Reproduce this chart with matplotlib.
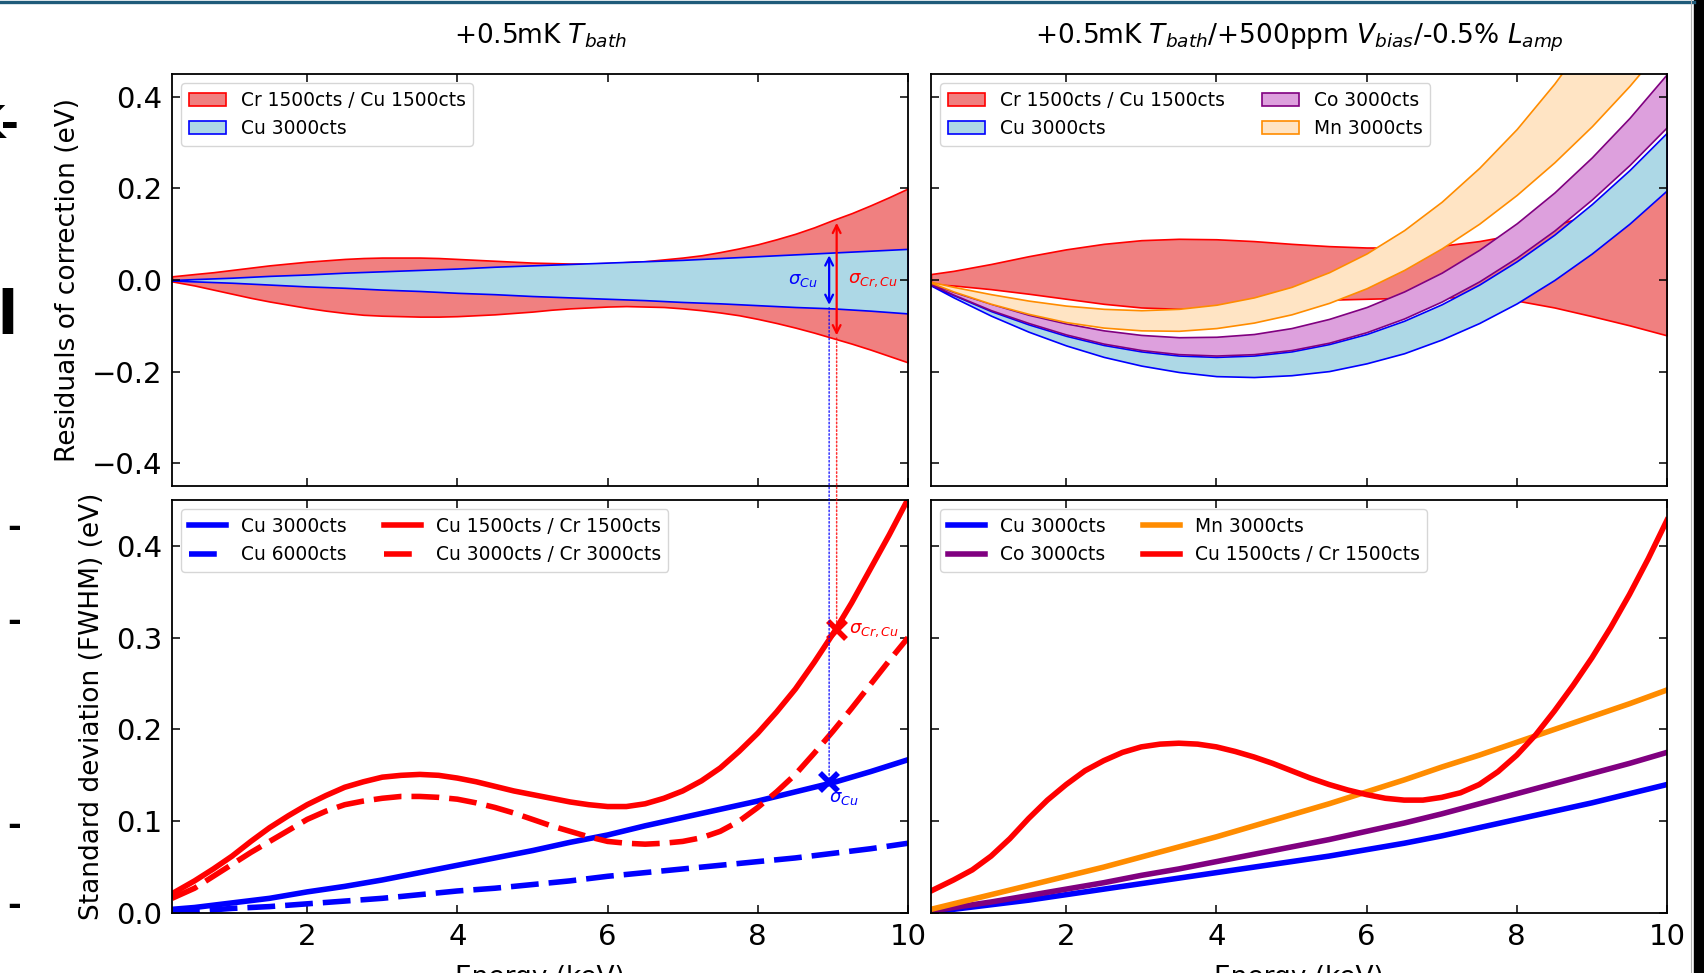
import matplotlib
matplotlib.use("Agg")
import matplotlib.pyplot as plt
from matplotlib.patches import ConnectionPatch, Rectangle
from matplotlib.lines import Line2D

# ---------------- data ----------------
# coarse grid for the gently varying series
energy = [0.2, 0.5, 1.0, 1.5, 2.0, 2.5, 3.0, 3.5, 4.0, 4.5, 5.0,
          5.5, 6.0, 6.5, 7.0, 7.5, 8.0, 8.5, 9.0, 9.5, 10.0]
# finer grid for the strongly curved Cr/Cu series
energy_fine = [0.2, 0.5, 0.75, 1.0, 1.25, 1.5, 1.75, 2.0, 2.25, 2.5, 2.75, 3.0, 3.25,
               3.5, 3.75, 4.0, 4.25, 4.5, 4.75, 5.0, 5.25, 5.5, 5.75, 6.0, 6.25, 6.5,
               6.75, 7.0, 7.25, 7.5, 7.75, 8.0, 8.25, 8.5, 8.75, 9.0, 9.25, 9.5, 9.75, 10.0]

# residual bands, +0.5mK T_bath
res_crcu_up_L = [0.008, 0.013, 0.017, 0.022, 0.027, 0.032, 0.036, 0.040, 0.043, 0.046, 0.048,
                 0.049, 0.049, 0.049, 0.048, 0.046, 0.044, 0.042, 0.040, 0.038, 0.037, 0.036,
                 0.036, 0.037, 0.039, 0.041, 0.045, 0.049, 0.054, 0.061, 0.069, 0.078, 0.089,
                 0.101, 0.115, 0.131, 0.146, 0.163, 0.181, 0.200]
res_crcu_lo_L = [-0.003, -0.012, -0.021, -0.030, -0.039, -0.047, -0.054, -0.061, -0.067, -0.072,
                 -0.076, -0.078, -0.079, -0.080, -0.080, -0.079, -0.077, -0.075, -0.072, -0.069,
                 -0.065, -0.062, -0.060, -0.058, -0.057, -0.058, -0.059, -0.062, -0.066, -0.071,
                 -0.077, -0.085, -0.094, -0.104, -0.115, -0.127, -0.139, -0.152, -0.166, -0.180]
res_cu_up_L = [0.000, 0.002, 0.005, 0.009, 0.012, 0.016, 0.019, 0.022, 0.025, 0.029, 0.032,
               0.035, 0.038, 0.041, 0.044, 0.048, 0.052, 0.056, 0.060, 0.064, 0.068]
res_cu_lo_L = [-0.001, -0.003, -0.006, -0.010, -0.014, -0.017, -0.021, -0.024, -0.028, -0.031, -0.035,
               -0.038, -0.041, -0.044, -0.048, -0.051, -0.055, -0.059, -0.062, -0.067, -0.073]

# residual bands, +0.5mK T_bath / +500ppm V_bias / -0.5% L_amp
res_crcu_up_R = [0.013, 0.020, 0.035, 0.052, 0.067, 0.079, 0.087, 0.090, 0.089, 0.085, 0.079,
                 0.074, 0.071, 0.071, 0.075, 0.085, 0.100, 0.120, 0.143, 0.170, 0.199]
res_crcu_lo_R = [-0.009, -0.012, -0.020, -0.030, -0.041, -0.052, -0.060, -0.063, -0.059, -0.053, -0.047,
                 -0.043, -0.041, -0.039, -0.038, -0.038, -0.045, -0.060, -0.079, -0.099, -0.121]
res_cu_up_R = [-0.010, -0.033, -0.068, -0.097, -0.122, -0.142, -0.156, -0.165, -0.168, -0.165, -0.156,
               -0.140, -0.118, -0.089, -0.053, -0.010, 0.041, 0.099, 0.166, 0.240, 0.322]
res_cu_lo_R = [-0.012, -0.038, -0.078, -0.113, -0.143, -0.168, -0.187, -0.201, -0.210, -0.212, -0.208,
               -0.199, -0.182, -0.160, -0.130, -0.094, -0.051, -0.000, 0.058, 0.123, 0.196]
res_co_up_R = [-0.008, -0.026, -0.052, -0.076, -0.095, -0.110, -0.120, -0.125, -0.124, -0.118, -0.105,
               -0.085, -0.059, -0.025, 0.016, 0.066, 0.124, 0.191, 0.268, 0.354, 0.450]
res_co_lo_R = [-0.010, -0.032, -0.066, -0.094, -0.119, -0.139, -0.153, -0.162, -0.165, -0.162, -0.153,
               -0.137, -0.114, -0.084, -0.047, -0.003, 0.049, 0.108, 0.176, 0.251, 0.334]
res_mn_up_R = [-0.004, -0.015, -0.031, -0.045, -0.056, -0.063, -0.066, -0.063, -0.054, -0.038, -0.015,
               0.017, 0.058, 0.109, 0.171, 0.245, 0.330, 0.429, 0.541, 0.668, 0.810]
res_mn_lo_R = [-0.006, -0.025, -0.052, -0.074, -0.092, -0.104, -0.110, -0.111, -0.105, -0.093, -0.075,
               -0.050, -0.018, 0.022, 0.069, 0.123, 0.186, 0.257, 0.336, 0.424, 0.521]

# standard deviations (FWHM), +0.5mK T_bath
std_cu3000_L = [0.004, 0.006, 0.011, 0.016, 0.023, 0.029, 0.036, 0.044, 0.052, 0.060, 0.068,
                0.077, 0.085, 0.095, 0.104, 0.113, 0.122, 0.132, 0.142, 0.154, 0.167]
std_cu6000_L = [0.001, 0.002, 0.005, 0.007, 0.010, 0.013, 0.016, 0.020, 0.024, 0.027, 0.031,
                0.035, 0.040, 0.044, 0.048, 0.052, 0.056, 0.060, 0.065, 0.070, 0.076]
std_cucr1500_L = [0.021, 0.035, 0.048, 0.062, 0.078, 0.093, 0.106, 0.118, 0.128, 0.137, 0.143,
                  0.148, 0.150, 0.151, 0.150, 0.147, 0.143, 0.138, 0.133, 0.129, 0.125, 0.121,
                  0.118, 0.116, 0.116, 0.119, 0.125, 0.133, 0.144, 0.158, 0.176, 0.196, 0.219,
                  0.244, 0.273, 0.304, 0.338, 0.375, 0.412, 0.451]
std_cucr3000_L = [0.016, 0.027, 0.040, 0.053, 0.066, 0.078, 0.090, 0.102, 0.111, 0.118, 0.122,
                  0.125, 0.127, 0.127, 0.126, 0.124, 0.120, 0.115, 0.109, 0.102, 0.095, 0.089,
                  0.083, 0.078, 0.076, 0.075, 0.076, 0.078, 0.082, 0.089, 0.100, 0.115, 0.132,
                  0.151, 0.174, 0.198, 0.223, 0.249, 0.275, 0.300]

# standard deviations (FWHM), combined drifts
std_cu3000_R = [0.001, 0.004, 0.009, 0.014, 0.020, 0.026, 0.032, 0.038, 0.044, 0.050, 0.056,
                0.062, 0.069, 0.076, 0.084, 0.093, 0.102, 0.111, 0.120, 0.130, 0.140]
std_co3000_R = [0.002, 0.006, 0.012, 0.019, 0.026, 0.033, 0.041, 0.048, 0.056, 0.064, 0.072,
                0.080, 0.089, 0.098, 0.108, 0.119, 0.130, 0.141, 0.152, 0.163, 0.175]
std_mn3000_R = [0.004, 0.010, 0.020, 0.030, 0.040, 0.050, 0.061, 0.072, 0.083, 0.095, 0.107,
                0.119, 0.132, 0.145, 0.159, 0.172, 0.186, 0.200, 0.214, 0.228, 0.243]
std_cucr1500_R = [0.024, 0.036, 0.047, 0.062, 0.081, 0.103, 0.123, 0.140, 0.155, 0.166, 0.175,
                  0.181, 0.184, 0.185, 0.184, 0.181, 0.176, 0.170, 0.163, 0.155, 0.147, 0.140,
                  0.134, 0.129, 0.125, 0.123, 0.123, 0.126, 0.131, 0.140, 0.154, 0.172, 0.194,
                  0.220, 0.248, 0.278, 0.311, 0.347, 0.386, 0.428]

# sigma markers at the reference energy
e_sig_cu, sig_cu_res_up, sig_cu_res_lo, sig_cu_std = 8.95, 0.060, -0.0605, 0.143
e_sig_crcu, sig_crcu_res_up, sig_crcu_res_lo, sig_crcu_std = 9.05, 0.131, -0.127, 0.308

xticks = [2, 4, 6, 8, 10]
res_yticks = [-0.4, -0.2, 0.0, 0.2, 0.4]
std_yticks = [0.0, 0.1, 0.2, 0.3, 0.4]

# ---------------- figure ----------------
W, H = 1704, 973
fig = plt.figure(figsize=(W / 100, H / 100), dpi=100)

def px_axes(x0, y0, x1, y1):
    return fig.add_axes([x0 / W, 1 - y1 / H, (x1 - x0) / W, (y1 - y0) / H])

ax_rl = px_axes(172, 74, 908, 486)
ax_rr = px_axes(931, 74, 1667, 486)
ax_sl = px_axes(172, 500, 908, 913)
ax_sr = px_axes(931, 500, 1667, 913)

TICK_FS = 21
LEG_FS = 13.4

for ax in (ax_rl, ax_rr, ax_sl, ax_sr):
    ax.set_xlim(0.2, 10)
    ax.set_xticks(xticks)
    ax.tick_params(direction="in", top=True, right=True, length=6, width=1.1,
                   labelsize=TICK_FS, pad=7)
    for s in ax.spines.values():
        s.set_linewidth(1.3)

for ax in (ax_rl, ax_rr):
    ax.set_ylim(-0.45, 0.45)
    ax.set_yticks(res_yticks)
    ax.tick_params(labelbottom=False)
for ax in (ax_sl, ax_sr):
    ax.set_ylim(0, 0.45)
    ax.set_yticks(std_yticks)
for ax in (ax_rr, ax_sr):
    ax.tick_params(labelleft=False)

# --- residual bands (left) ---
ax_rl.fill_between(energy_fine, res_crcu_lo_L, res_crcu_up_L, facecolor="lightcoral",
                   edgecolor="red", lw=1.2, label="Cr 1500cts / Cu 1500cts")
ax_rl.fill_between(energy, res_cu_lo_L, res_cu_up_L, facecolor="lightblue",
                   edgecolor="blue", lw=1.2, label="Cu 3000cts")
ax_rl.legend(loc="upper left", fontsize=LEG_FS)

# --- residual bands (right) ---
ax_rr.fill_between(energy, res_crcu_lo_R, res_crcu_up_R, facecolor="lightcoral",
                   edgecolor="red", lw=1.2, label="Cr 1500cts / Cu 1500cts")
ax_rr.fill_between(energy, res_cu_lo_R, res_cu_up_R, facecolor="lightblue",
                   edgecolor="blue", lw=1.2, label="Cu 3000cts")
ax_rr.fill_between(energy, res_co_lo_R, res_co_up_R, facecolor="plum",
                   edgecolor="purple", lw=1.2, label="Co 3000cts")
ax_rr.fill_between(energy, res_mn_lo_R, res_mn_up_R, facecolor="bisque",
                   edgecolor="darkorange", lw=1.2, label="Mn 3000cts")
ax_rr.legend(loc="upper left", fontsize=LEG_FS, ncol=2)

# --- standard deviations (left) ---
LW = 4
ax_sl.plot(energy, std_cu3000_L, color="blue", lw=LW, label="Cu 3000cts")
ax_sl.plot(energy, std_cu6000_L, color="blue", lw=LW, dashes=(5, 1.8), label="Cu 6000cts")
ax_sl.plot(energy_fine, std_cucr1500_L, color="red", lw=LW, label="Cu 1500cts / Cr 1500cts")
ax_sl.plot(energy_fine, std_cucr3000_L, color="red", lw=LW, dashes=(5, 1.8),
           label="Cu 3000cts / Cr 3000cts")
ax_sl.legend(loc="upper left", fontsize=LEG_FS, ncol=2)

# --- standard deviations (right) ---
ax_sr.plot(energy, std_cu3000_R, color="blue", lw=LW, label="Cu 3000cts")
ax_sr.plot(energy, std_co3000_R, color="purple", lw=LW, label="Co 3000cts")
ax_sr.plot(energy, std_mn3000_R, color="darkorange", lw=LW, label="Mn 3000cts")
ax_sr.plot(energy_fine, std_cucr1500_R, color="red", lw=LW, label="Cu 1500cts / Cr 1500cts")
ax_sr.legend(loc="upper left", fontsize=LEG_FS, ncol=2)

# --- sigma annotations ---
ax_rl.annotate("", xy=(e_sig_cu, sig_cu_res_up), xytext=(e_sig_cu, sig_cu_res_lo),
               arrowprops=dict(arrowstyle="<->", color="blue", lw=1.6, mutation_scale=14))
ax_rl.annotate("", xy=(e_sig_crcu, sig_crcu_res_up), xytext=(e_sig_crcu, sig_crcu_res_lo),
               arrowprops=dict(arrowstyle="<->", color="red", lw=1.6, mutation_scale=14))
ax_rl.text(e_sig_cu - 0.15, 0.0, r"$\sigma_{Cu}$", color="blue", fontsize=13,
           ha="right", va="center")
ax_rl.text(e_sig_crcu + 0.15, 0.0, r"$\sigma_{Cr,Cu}$", color="red", fontsize=13,
           ha="left", va="center")

ax_sl.plot([e_sig_cu], [sig_cu_std], marker="x", ms=13, mew=4, color="blue", zorder=5)
ax_sl.plot([e_sig_crcu], [sig_crcu_std], marker="x", ms=13, mew=4, color="red", zorder=5)
ax_sl.text(e_sig_crcu + 0.17, sig_crcu_std, r"$\sigma_{Cr,Cu}$", color="red", fontsize=13,
           ha="left", va="center")
ax_sl.text(e_sig_cu, sig_cu_std - 0.018, r"$\sigma_{Cu}$", color="blue", fontsize=13,
           ha="left", va="center")

for e, y0, y1, c in ((e_sig_cu, sig_cu_res_lo, sig_cu_std, "blue"),
                     (e_sig_crcu, sig_crcu_res_lo, sig_crcu_std, "red")):
    con = ConnectionPatch(xyA=(e, y0), coordsA=ax_rl.transData,
                          xyB=(e, y1), coordsB=ax_sl.transData,
                          color=c, lw=1.1, linestyle=(0, (1, 1.5)), alpha=0.8)
    fig.add_artist(con)

# --- labels and titles ---
ax_rl.set_ylabel("Residuals of correction (eV)", fontsize=19, labelpad=8)
ax_sl.set_ylabel("Standard deviation (FWHM) (eV)", fontsize=19, labelpad=8)
ax_sl.set_xlabel("Energy (keV)", fontsize=19, labelpad=10)
ax_sr.set_xlabel("Energy (keV)", fontsize=19, labelpad=10)
ax_rl.set_title(r"+0.5mK $T_{bath}$", fontsize=19, pad=22)
ax_rr.set_title(r"+0.5mK $T_{bath}$/+500ppm $V_{bias}$/-0.5% $L_{amp}$", fontsize=19, pad=22)

# --- slide framing around the figure ---
fig.add_artist(Line2D([0, 1694 / W], [1 - 1.5 / H, 1 - 1.5 / H], color="#1f5b7a",
                      lw=2.4, transform=fig.transFigure))
fig.add_artist(Rectangle((1694 / W, 0), 10 / W, 1, color="black", transform=fig.transFigure))
fig.add_artist(Line2D([1690.5 / W, 1690.5 / W], [0, 1], color="#b0b0b0", lw=0.8,
                      transform=fig.transFigure))
fig.text(20 / W, 1 - 126 / H, "K-", ha="right", va="center", fontsize=32, fontweight="bold")
fig.text(19 / W, 1 - 318 / H, "nl", ha="right", va="center", fontsize=44, fontweight="bold")
for yy in (528, 621, 826, 906):
    fig.text(21 / W, 1 - yy / H, "-", ha="right", va="center", fontsize=24, fontweight="bold")

fig.savefig("out.png", dpi=100)
